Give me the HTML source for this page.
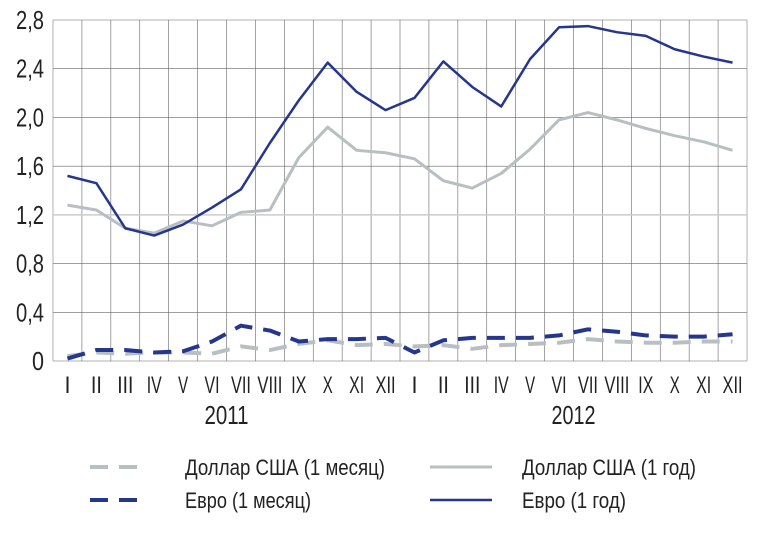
<!DOCTYPE html>
<html><head><meta charset="utf-8"><style>
body{margin:0;background:#fff;}
svg text{font-family:"Liberation Sans Narrow","Liberation Sans",sans-serif;fill:#222;}
</style></head><body>
<svg id="chart" width="782" height="540" xmlns="http://www.w3.org/2000/svg">
<g id="grid"></g>
<g id="axes"></g>
<g id="series"></g>
<g>
 <line x1="90" y1="467" x2="148" y2="467" stroke="#b8bfc2" stroke-width="4" stroke-dasharray="18,11"/>
 <text x="185" y="475" font-size="22" textLength="200" lengthAdjust="spacingAndGlyphs">Доллар США (1 месяц)</text>
 <line x1="90" y1="500" x2="148" y2="500" stroke="#25368f" stroke-width="4" stroke-dasharray="18,11"/>
 <text x="185" y="508" font-size="22" textLength="126" lengthAdjust="spacingAndGlyphs">Евро (1 месяц)</text>
 <line x1="430" y1="467" x2="492" y2="467" stroke="#b8bfc2" stroke-width="3"/>
 <text x="522" y="475" font-size="22" textLength="174" lengthAdjust="spacingAndGlyphs">Доллар США (1 год)</text>
 <line x1="430" y1="500" x2="492" y2="500" stroke="#25368f" stroke-width="2.5"/>
 <text x="522" y="508" font-size="22" textLength="104" lengthAdjust="spacingAndGlyphs">Евро (1 год)</text>
</g>
</svg>
<script>
const months=["I","II","III","IV","V","VI","VII","VIII","IX","X","XI","XII","I","II","III","IV","V","VI","VII","VIII","IX","X","XI","XII"];
const years=["2011","2012"];
const yTicks=[0,0.4,0.8,1.2,1.6,2.0,2.4,2.8];
const yTickLabels=["0","0,4","0,8","1,2","1,6","2,0","2,4","2,8"];
const eur1y=[1.52,1.46,1.09,1.03,1.12,1.26,1.41,1.79,2.14,2.45,2.21,2.06,2.16,2.46,2.25,2.09,2.48,2.74,2.75,2.70,2.67,2.56,2.50,2.45];
const usd1y=[1.28,1.24,1.09,1.05,1.15,1.11,1.22,1.24,1.67,1.92,1.73,1.71,1.66,1.48,1.42,1.54,1.74,1.98,2.04,1.98,1.91,1.85,1.80,1.73];
const eur1m=[0.02,0.09,0.09,0.07,0.08,0.16,0.29,0.25,0.16,0.18,0.18,0.19,0.07,0.17,0.19,0.19,0.19,0.21,0.26,0.24,0.21,0.20,0.20,0.22];
const usd1m=[0.04,0.07,0.06,0.07,0.07,0.06,0.12,0.09,0.14,0.17,0.13,0.14,0.12,0.13,0.10,0.13,0.14,0.15,0.18,0.16,0.15,0.15,0.16,0.16];

const NS="http://www.w3.org/2000/svg";
const L=53,R=747,T=20,B=361,yMax=2.8;
const colW=(R-L)/months.length;
const x=i=>L+colW*(i+0.5);
const y=v=>B-(v/yMax)*(B-T);
function mk(tag,attrs,parent){const e=document.createElementNS(NS,tag);for(const k in attrs)e.setAttribute(k,attrs[k]);parent.appendChild(e);return e;}
const grid=document.getElementById('grid'),axes=document.getElementById('axes'),series=document.getElementById('series');
for(let i=0;i<=months.length;i++){
 const gx=L+colW*i;
 const edge=(i==0||i==months.length);
 const ln=mk('line',{x1:gx,y1:T,x2:gx,y2:B,stroke:edge?'#ccc':'#666','stroke-width':edge?1.5:0.6},grid);
 
 
}
yTicks.forEach((v,i)=>{
 const ln=mk('line',{x1:L,y1:y(v),x2:R,y2:y(v),stroke:v===1.2?'#ccc':'#666','stroke-width':v===1.2?1.5:0.6},grid);
 
 
 const lbl=yTickLabels[i];
 const t=mk('text',{x:44,y:y(v)+9,'font-size':26,'text-anchor':'end'},axes);
 
 
 t.textContent=lbl;
 t.setAttribute('textLength',lbl.length>1?28:12);
 t.setAttribute('lengthAdjust','spacingAndGlyphs');
});
months.forEach((m,i)=>{
 const t=mk('text',{x:x(i),y:393,'font-size':24,'text-anchor':'middle'},axes);
 
 
 t.textContent=m;
 t.setAttribute('textLength',m.length*5+(m.includes('V')||m.includes('X')?5:1));
 t.setAttribute('lengthAdjust','spacingAndGlyphs');
});
years.forEach((yr,k)=>{
 const t=mk('text',{x:(x(k*12+5)+x(k*12+6))/2,y:424,'font-size':26,'text-anchor':'middle',textLength:44,lengthAdjust:'spacingAndGlyphs'},axes);
 
 
 t.textContent=yr;
});
function draw(arr,color,w,dash,name){
 const p=mk('polyline',{points:arr.map((v,i)=>x(i)+','+y(v)).join(' '),fill:'none',stroke:color,'stroke-width':w,'stroke-linejoin':'round'},series);
 if(dash)p.setAttribute('stroke-dasharray',dash);
 
 
}
draw(usd1m,'#b8bfc2',4,'18,11','usd-1m-line');
draw(eur1m,'#25368f',4,'18,11','eur-1m-line');
draw(usd1y,'#b8bfc2',3,null,'usd-1y-line');
draw(eur1y,'#25368f',2.5,null,'eur-1y-line');
</script>
</body></html>
